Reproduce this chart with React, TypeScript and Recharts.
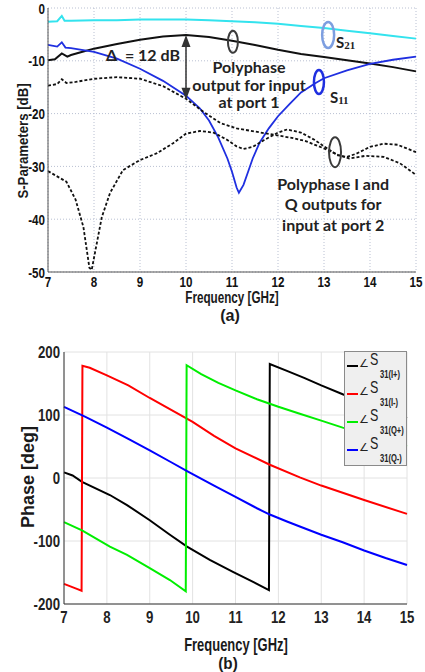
import { LineChart, Line, XAxis, YAxis, CartesianGrid, ReferenceDot, ReferenceLine } from 'recharts'

// ---- data ----
const freqTicks = [7, 8, 9, 10, 11, 12, 13, 14, 15]
const dbTicks = [0, -10, -20, -30, -40, -50]
const phaseTicks = [-200, -100, 0, 100, 200]

// (a) S-parameters [GHz, dB]
const s21 = [
    [7, -2.6], [7.2, -2.5], [7.3, -1.5], [7.36, -2.4], [7.5, -2.4], [8, -2.3], [8.5, -2.3], [9, -2.2],
    [9.5, -2.2], [10, -2.2], [10.5, -2.3], [11, -2.5], [11.5, -2.7], [12, -3.0], [12.5, -3.4],
    [13, -3.8], [13.5, -4.3], [14, -4.8], [14.5, -5.3], [15, -5.8],
]
const port1Out = [
    [7, -9.9], [7.15, -9.7], [7.3, -8.6], [7.42, -9.2], [7.5, -8.9], [7.75, -8.3], [8, -7.7], [8.5, -6.8],
    [9, -6.0], [9.5, -5.4], [10, -5.1], [10.5, -5.5], [11, -6.2], [11.5, -7.0], [12, -7.9], [12.5, -8.7],
    [13, -9.3], [13.5, -9.9], [14, -10.5], [14.5, -11.2], [15, -12.0],
]
const s11 = [
    [7, -7.0], [7.2, -7.3], [7.3, -6.5], [7.38, -7.5], [7.5, -7.6], [8, -8.3], [8.5, -9.6], [9, -11.5],
    [9.5, -13.8], [10, -16.6], [10.3, -19.0], [10.5, -21.3], [10.7, -24.5], [10.9, -28.5], [11.0, -31],
    [11.1, -34], [11.15, -35], [11.25, -33.5], [11.35, -31], [11.45, -28.5], [11.6, -25.5], [11.8, -22.8],
    [12.0, -20.5], [12.25, -18.2], [12.5, -16.0], [12.8, -14.3], [13.0, -13.3], [13.5, -11.8],
    [14, -10.6], [14.5, -9.8], [15, -9.2],
]
const port2OutA = [
    [7, -14.7], [7.2, -14.4], [7.3, -13.5], [7.4, -14.2], [7.6, -14.0], [8, -13.4], [8.5, -13.1],
    [9, -13.4], [9.5, -14.8], [10, -17.2], [10.4, -19.8], [10.75, -21.8], [11.1, -22.8], [11.5, -23.4],
    [11.9, -24.0], [12.3, -24.6], [12.6, -25.2], [13.0, -26.6], [13.3, -27.8], [13.55, -28.5],
    [13.9, -28.0], [14.3, -28.2], [14.65, -29.4], [15, -31.6],
]
const port2OutB = [
    [7, -30.9], [7.4, -32.9], [7.6, -36.3], [7.77, -41.5], [7.9, -49.2], [7.95, -49.6], [8.02, -46.4],
    [8.17, -39.6], [8.35, -35], [8.63, -30.7], [9, -28.8], [9.37, -27.5], [9.72, -25.6], [10, -23.8],
    [10.3, -23.3], [10.6, -23.6], [10.9, -25.0], [11.1, -26.2], [11.25, -26.7], [11.45, -26.3],
    [11.7, -25.0], [12.0, -23.6], [12.2, -23.0], [12.5, -23.6], [12.8, -25.0], [13.0, -26.2],
    [13.3, -27.9], [13.5, -28.2], [13.7, -27.6], [14.0, -26.3], [14.3, -25.7], [14.6, -25.9], [15, -27.3],
]

// (b) phase [GHz, deg]
const phaseIp = [
    [7, 9], [7.2, 4], [7.42, -6], [8.07, -27], [8.47, -43], [9, -67], [9.47, -90], [9.87, -109],
    [10.4, -130], [10.94, -149], [11.41, -165], [11.78, -178], [11.8, 181], [12.2, 170], [12.6, 159],
    [13, 147], [13.5, 133], [14, 120], [15, 95],
]
const phaseIm = [
    [7, -168], [7.15, -172], [7.3, -176], [7.41, -179], [7.43, 178], [7.6, 175], [8, 163], [8.5, 147],
    [9, 127], [9.5, 108], [10, 89], [10.5, 67], [11, 47], [11.8, 21], [12.5, 1], [13, -12],
    [14, -35], [15, -57],
]
const phaseQp = [
    [7, -70], [7.42, -83], [8.07, -109], [8.47, -122], [9, -143], [9.47, -162], [9.84, -180], [9.86, 179],
    [10.2, 165], [10.6, 151], [11, 139], [11.5, 125], [12, 113], [12.5, 102], [13, 91], [13.5, 80],
    [14, 70], [15, 50],
]
const phaseQm = [
    [7, 113], [7.5, 97], [8, 80], [8.5, 62], [9, 44], [9.5, 25], [9.87, 11], [10.5, -12], [11, -30],
    [11.5, -48], [11.8, -58], [12.2, -69], [12.5, -77], [13, -90], [13.5, -102], [14, -115],
    [14.5, -127], [15, -138],
]

const legendItems = [
    { color: '#000000', sub: '31(I+)' },
    { color: '#ff0000', sub: '31(I-)' },
    { color: '#00ee00', sub: '31(Q+)' },
    { color: '#0000ff', sub: '31(Q-)' },
]

const toPts = (arr: number[][]) => arr.map(([f, v]) => ({ f, v }))

const sans = "'Liberation Sans', Arial, sans-serif"
const calibri = "Lato, 'Open Sans', sans-serif"

// condensed bold tick labels (Arial Narrow look)
const narrowTick = (size: number, sx: number, dy: string, color: string) => (p: any) => (
    <g transform={`translate(${p.x},${p.y}) scale(${sx},1)`}>
        <text x={0} y={0} dy={dy} textAnchor={p.textAnchor} fontFamily={sans} fontWeight={700} fontSize={size} fill={color}>
            {p.payload.value}
        </text>
    </g>
)

const ellipse = (rx: number, ry: number, stroke: string, w = 2) => (p: any) => (
    <ellipse cx={p.cx} cy={p.cy} rx={rx} ry={ry} fill="none" stroke={stroke} strokeWidth={w} />
)

const textBlock = (lines: string[], gap: number, anchor = 'middle') => (p: any) => (
    <g>
        {lines.map((t, i) => (
            <text key={i} x={p.cx} y={p.cy + (i - (lines.length - 1) / 2) * gap} textAnchor={anchor}
                dominantBaseline="central" fontFamily={calibri} fontWeight={700} fontSize={16} fill="#222">
                {t}
            </text>
        ))}
    </g>
)

const subLabel = (main: string, sub: string) => (p: any) => (
    <text x={p.cx} y={p.cy} fontFamily={calibri} fontWeight={700} fontSize={15} fill="#222">
        {main}
        <tspan fontSize={11} dy={1} fontFamily="'Liberation Serif', serif">{sub}</tspan>
    </text>
)

const arrowHead = (dir: 'up' | 'down') => (p: any) => {
    const s = dir === 'up' ? 1 : -1
    return (
        <polygon
            points={`${p.cx},${p.cy} ${p.cx - 4.5},${p.cy + s * 12} ${p.cx + 4.5},${p.cy + s * 12}`}
            fill="#333"
        />
    )
}

const caption = (left: number, top: number, size: number, sx: number, rotate = false): any => ({
    position: 'absolute', left, top, whiteSpace: 'nowrap', fontFamily: sans, fontWeight: 700, fontSize: size,
    color: '#1a1a1a', lineHeight: 1,
    transform: `translate(-50%, -50%)${rotate ? ' rotate(-90deg)' : ''} scaleX(${sx})`,
})

export default function App() {
    return (
        <div style={{ position: 'absolute', left: 0, top: 0, width: 425, height: 672, background: '#fff', overflow: 'hidden' }}>
            {/* (a) S-parameters */}
            <div style={{ position: 'absolute', left: 0, top: 0 }}>
                <LineChart width={425} height={300} margin={{ top: 8, right: 9, left: 0, bottom: 8 }}>
                    <CartesianGrid stroke="#b9c0d2" strokeDasharray="1 2" />
                    <XAxis dataKey="f" type="number" domain={[7, 15]} ticks={freqTicks} interval={0} height={20}
                        tick={narrowTick(15.5, 0.75, '0.71em', '#111')} tickSize={0} tickMargin={4}
                        axisLine={{ stroke: '#555' }} allowDuplicatedCategory={false} />
                    <YAxis type="number" domain={[-50, 0]} ticks={dbTicks} interval={0} width={48}
                        tick={narrowTick(15.5, 0.75, '0.36em', '#111')} tickSize={0} tickMargin={3}
                        axisLine={{ stroke: '#555' }} />
                    <Line data={toPts(s21)} dataKey="v" stroke="#33e3ee" strokeWidth={2} dot={false} isAnimationActive={false} />
                    <Line data={toPts(port1Out)} dataKey="v" stroke="#111" strokeWidth={2} dot={false} isAnimationActive={false} />
                    <Line data={toPts(s11)} dataKey="v" stroke="#1f2fe0" strokeWidth={1.8} dot={false} isAnimationActive={false} />
                    <Line data={toPts(port2OutA)} dataKey="v" stroke="#111" strokeWidth={1.8} strokeDasharray="3 2" dot={false} isAnimationActive={false} />
                    <Line data={toPts(port2OutB)} dataKey="v" stroke="#111" strokeWidth={1.8} strokeDasharray="3 2" dot={false} isAnimationActive={false} />

                    <ReferenceLine segment={[{ x: 10, y: -5.6 }, { x: 10, y: -17 }]} stroke="#333" strokeWidth={1.5} />
                    <ReferenceDot x={10} y={-5.1} shape={arrowHead('up')} />
                    <ReferenceDot x={10} y={-17.4} shape={arrowHead('down')} />
                    <ReferenceDot x={9.87} y={-8.9} shape={textBlock(['Δ\u00a0\u00a0= 12 dB'], 0, 'end')} />
                    <ReferenceDot x={11.02} y={-6.4} shape={ellipse(5, 11, '#3a3a3a')} />
                    <ReferenceDot x={11.37} y={-14.4} shape={textBlock(['Polyphase', 'output for input', 'at port 1'], 17.5)} />
                    <ReferenceDot x={13.09} y={-5.1} shape={ellipse(6, 13, '#7d9ee0', 2.5)} />
                    <ReferenceDot x={13.26} y={-7.6} shape={subLabel('S', '21')} />
                    <ReferenceDot x={12.89} y={-14.0} shape={ellipse(5, 12, '#1f2fe0', 2.5)} />
                    <ReferenceDot x={13.13} y={-18.0} shape={subLabel('S', '11')} />
                    <ReferenceDot x={13.24} y={-27.3} shape={ellipse(6, 15, '#3a3a3a')} />
                    <ReferenceDot x={13.2} y={-37.1} shape={textBlock(['Polyphase I and', 'Q outputs for', 'input at port 2'], 20.5)} />
                </LineChart>
            </div>
            <div style={caption(22, 141, 15, 0.88, true)}>S-Parameters [dB]</div>
            <div style={caption(232, 298, 16, 0.73)}>Frequency [GHz]</div>
            <div style={caption(230, 315, 17, 0.95)}>(a)</div>

            {/* (b) phase */}
            <div style={{ position: 'absolute', left: 0, top: 330 }}>
                <LineChart width={425} height={300} margin={{ top: 22, right: 18, left: 0, bottom: 4 }}>
                    <CartesianGrid stroke="#e2e2e2" />
                    <XAxis dataKey="f" type="number" domain={[7, 15]} ticks={freqTicks} interval={0} height={22}
                        tick={narrowTick(16.5, 0.8, '0.71em', '#222')} tickSize={0} tickMargin={7}
                        axisLine={{ stroke: '#333' }} allowDuplicatedCategory={false} />
                    <YAxis type="number" domain={[-200, 200]} ticks={phaseTicks} interval={0} width={64}
                        tick={narrowTick(16.5, 0.8, '0.36em', '#222')} tickSize={0} tickMargin={4}
                        axisLine={{ stroke: '#333' }} />
                    <Line data={toPts(phaseIp)} dataKey="v" stroke="#000" strokeWidth={2} dot={false} isAnimationActive={false} />
                    <Line data={toPts(phaseIm)} dataKey="v" stroke="#ff0000" strokeWidth={2} dot={false} isAnimationActive={false} />
                    <Line data={toPts(phaseQp)} dataKey="v" stroke="#00ee00" strokeWidth={2} dot={false} isAnimationActive={false} />
                    <Line data={toPts(phaseQm)} dataKey="v" stroke="#0000ff" strokeWidth={2} dot={false} isAnimationActive={false} />
                </LineChart>
            </div>
            <div style={caption(28, 477, 18, 1, true)}>Phase [deg]</div>
            <div style={caption(236, 645, 18, 0.72)}>Frequency [GHz]</div>
            <div style={caption(228, 664, 16, 0.95)}>(b)</div>

            {/* legend */}
            <div style={{ position: 'absolute', left: 344, top: 351, width: 63, height: 115, background: '#efefef', border: '1px solid #8a8a8a', boxSizing: 'border-box' }}>
                <svg width={63} height={115} style={{ position: 'absolute', left: -1, top: -1 }}>
                    {legendItems.map((it, i) => {
                        const y = 15 + 28 * i
                        return (
                            <g key={i}>
                                <line x1={3} x2={14} y1={y} y2={y} stroke={it.color} strokeWidth={2} />
                                <text x={15} y={y + 1} fontSize={11} fontFamily={sans} fill="#222">∠</text>
                                <g transform={`translate(26,${y - 1}) scale(0.78,1)`}>
                                    <text x={0} y={0} fontSize={16} fontFamily={sans} fill="#222">S</text>
                                </g>
                                <g transform={`translate(36,${y + 12}) scale(0.72,1)`}>
                                    <text x={0} y={0} fontSize={10.5} fontFamily={sans} fontWeight={700} fill="#222">{it.sub}</text>
                                </g>
                            </g>
                        )
                    })}
                </svg>
            </div>
        </div>
    )
}
